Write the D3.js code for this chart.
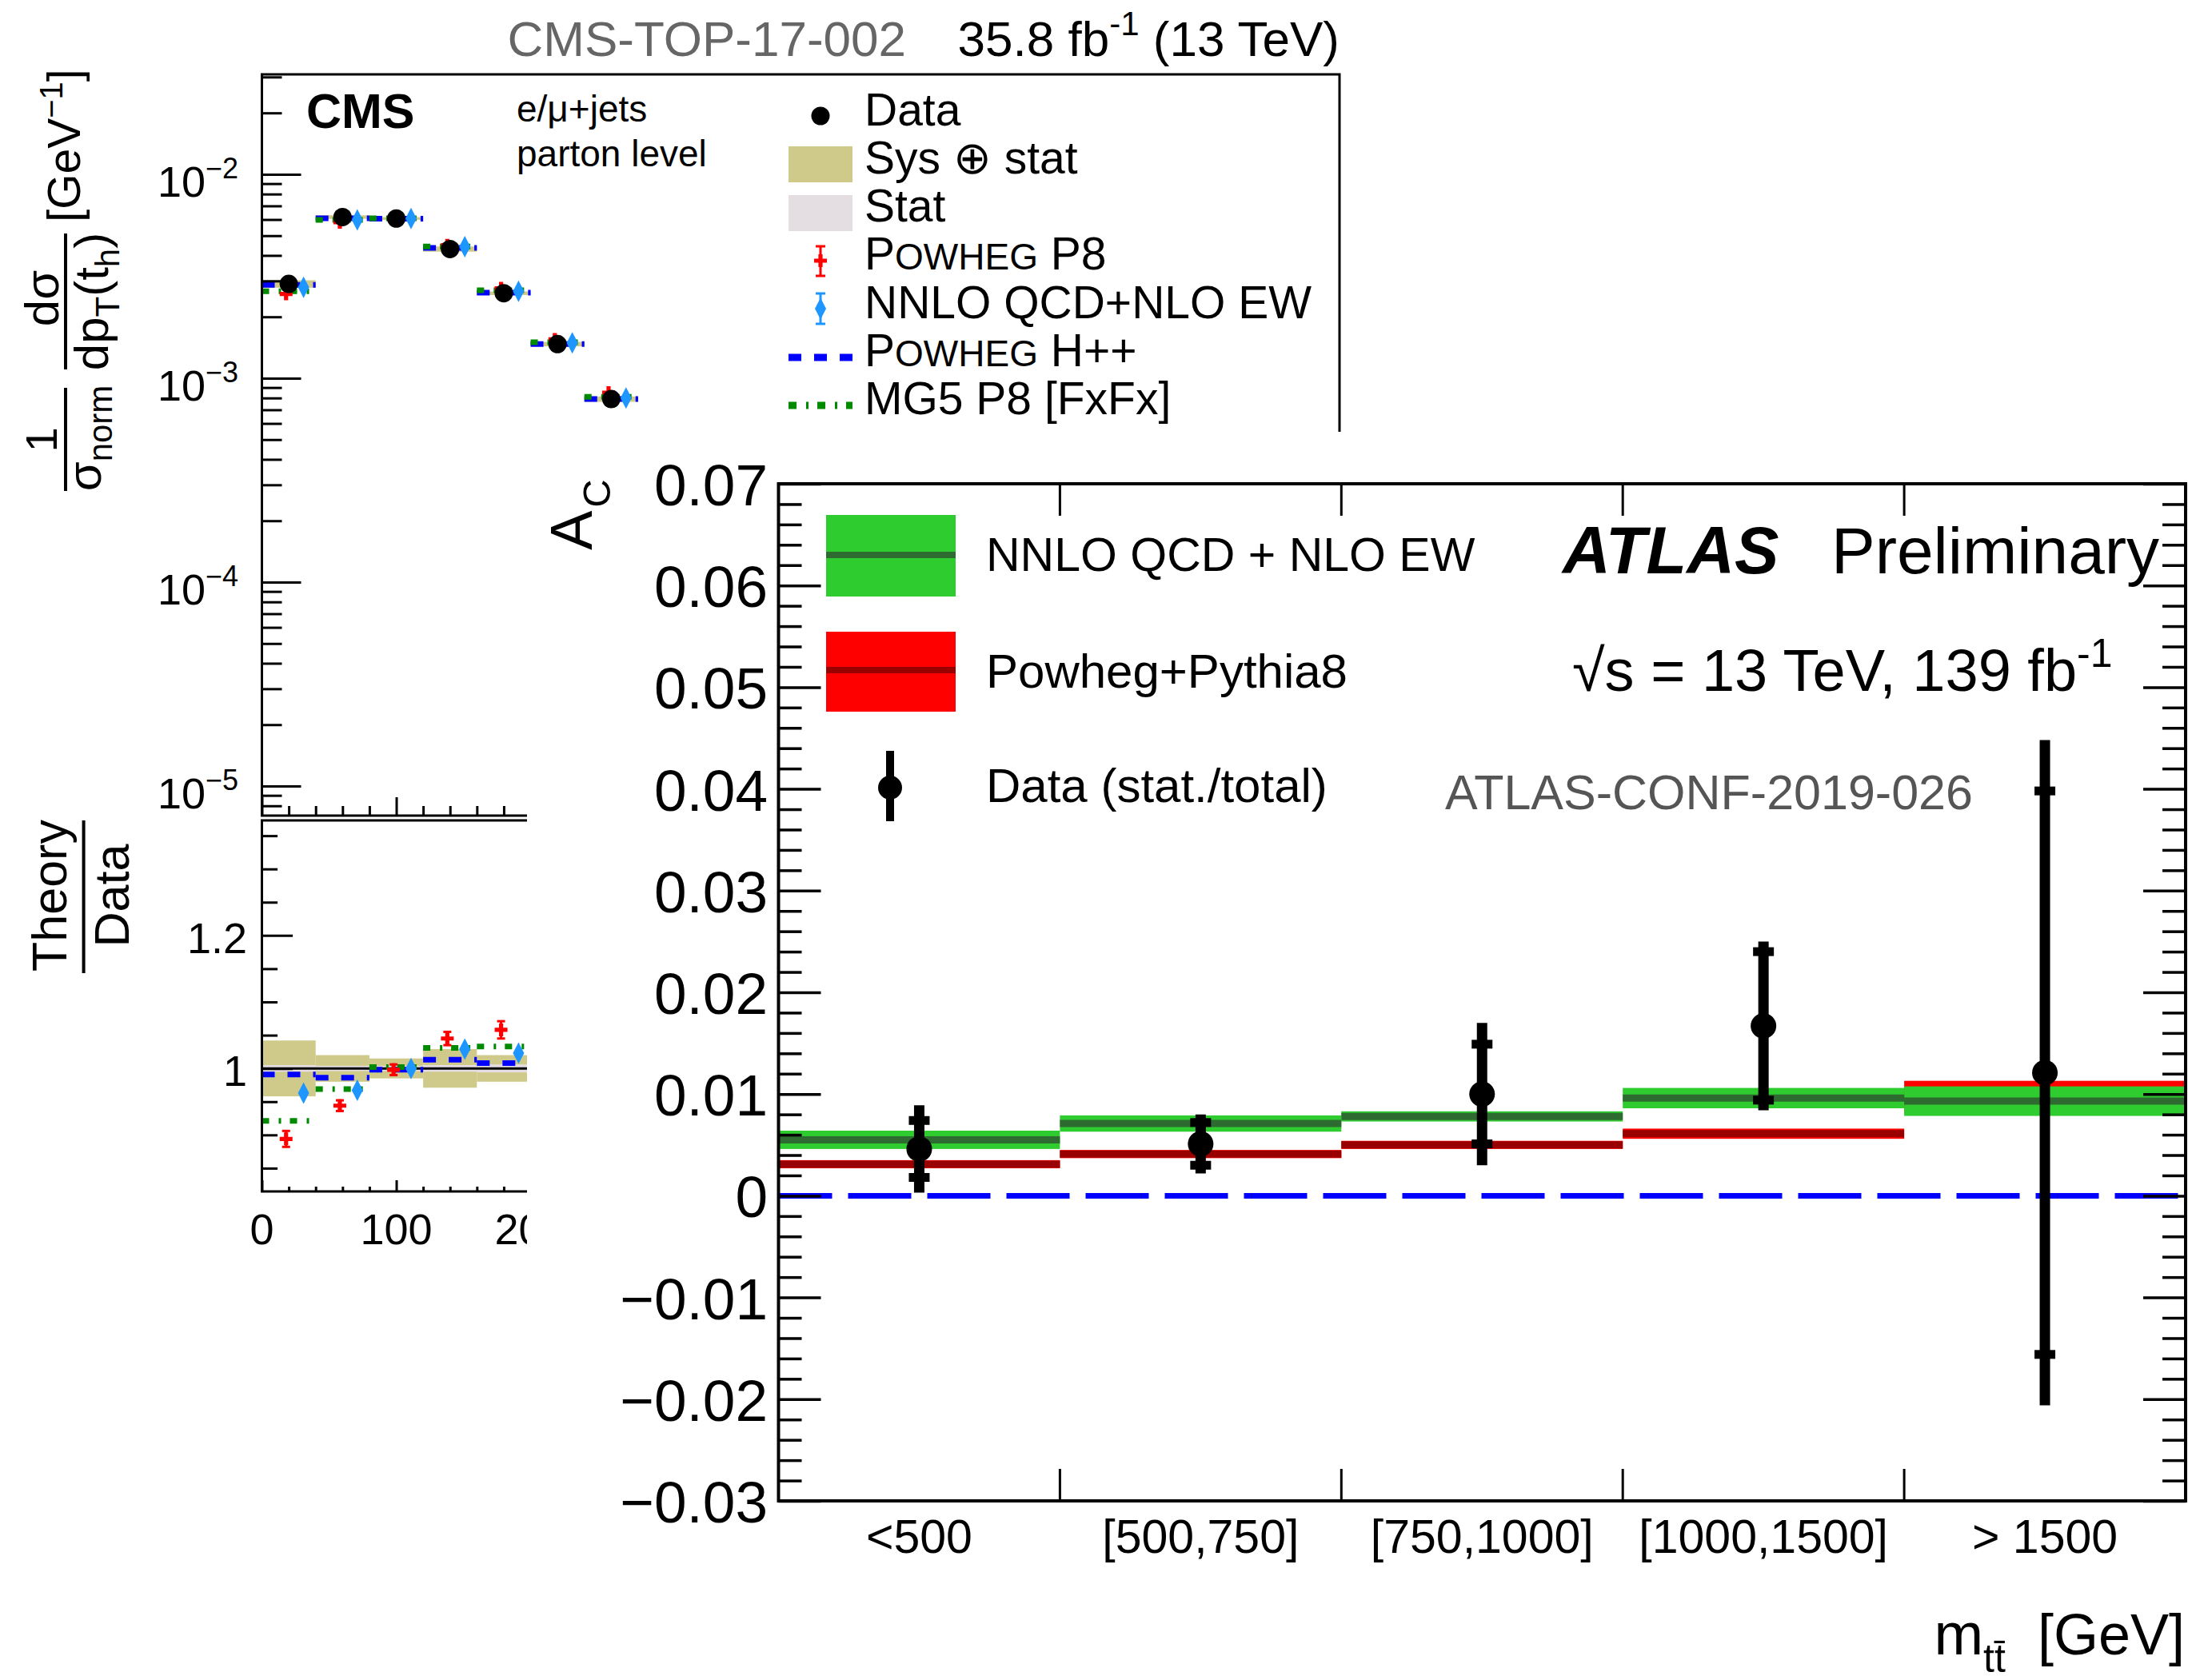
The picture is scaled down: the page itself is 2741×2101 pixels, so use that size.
<!DOCTYPE html>
<html>
<head>
<meta charset="utf-8">
<script src="https://cdn.jsdelivr.net/npm/d3@7"></script>
<style>
  body { margin: 0; background: #fff; }
  text { font-family: "Liberation Sans", Arial, Helvetica, sans-serif; }
</style>
</head>
<body>
<script>
// CMS: normalised pT(t_h) cross section, parton level
var ptEdges   = [0, 40, 80, 120, 160, 200, 240, 280];
var xsData    = [2.90e-3, 6.17e-3, 6.07e-3, 4.30e-3, 2.61e-3, 1.47e-3, 7.9e-4];
var xsP8      = [2.59e-3, 5.82e-3, 6.06e-3, 4.49e-3, 2.76e-3, 1.55e-3, 8.5e-4];
var xsNNLO    = [2.79e-3, 5.97e-3, 6.07e-3, 4.42e-3, 2.67e-3, 1.49e-3, 8.0e-4];
var xsHpp     = [2.87e-3, 6.08e-3, 6.06e-3, 4.36e-3, 2.63e-3, 1.47e-3, 7.9e-4];
var xsMG5     = [2.67e-3, 5.98e-3, 6.08e-3, 4.43e-3, 2.70e-3, 1.50e-3, 8.1e-4];
var relSys    = [0.042, 0.020, 0.015, 0.029, 0.020, 0.025, 0.030];
var relStat   = [0.005, 0.004, 0.004, 0.005, 0.006, 0.008, 0.010];
// theory / data ratios
var ratP8      = [0.894, 0.944, 0.998, 1.045, 1.058, 1.052, 1.075];
var ratP8Err   = [0.012, 0.008, 0.008, 0.010, 0.013, 0.015, 0.020];
var ratNNLO    = [0.963, 0.967, 1.000, 1.029, 1.023, 1.012, 1.010];
var ratHpp     = [0.991, 0.986, 0.998, 1.013, 1.008, 1.000, 1.000];
var ratMG5     = [0.921, 0.969, 1.002, 1.031, 1.033, 1.020, 1.030];
var ptLabels   = [0, 100, 200];
var decades    = [1e-2, 1e-3, 1e-4, 1e-5];
var decadeExp  = ['−2', '−3', '−4', '−5'];
var ratLabels  = [1, 1.2];

// ATLAS: charge asymmetry vs m(tt)
var mttBins     = ['<500', '[500,750]', '[750,1000]', '[1000,1500]', '> 1500'];
var acData      = [0.0046, 0.0051, 0.0100, 0.0167, 0.0121];
var acTot       = [0.0043, 0.0029, 0.0070, 0.0083, 0.0327];
var acStat      = [0.0028, 0.0021, 0.0049, 0.0073, 0.0277];
var acNNLO      = [0.0055, 0.0071, 0.0078, 0.0096, 0.0093];
var acNNLOErr   = [0.0009, 0.0008, 0.0005, 0.0010, 0.00145];
var acPowheg    = [0.0031, 0.0041, 0.0050, 0.0061, 0.0097];
var acPowhegErr = [0.0004, 0.0004, 0.0004, 0.0005, 0.0016];
var acTicks     = [-0.03, -0.02, -0.01, 0, 0.01, 0.02, 0.03, 0.04, 0.05, 0.06, 0.07];

var W = 2741, H = 2101;
var svg = d3.select('body').append('svg').attr('width', W).attr('height', H);
svg.append('rect').attr('width', W).attr('height', H).attr('fill', 'white');

var SYS = '#d0ca8a', STAT = '#e4dee2', BLUE = '#0000ff', GREEN = '#008a00',
    RED = '#ff0000', LBLUE = '#1e96ff';

function crossPath(cx, cy, s, t) {
  return 'M' + (cx - t) + ',' + (cy - s) + 'H' + (cx + t) + 'V' + (cy - t) + 'H' + (cx + s) +
    'V' + (cy + t) + 'H' + (cx + t) + 'V' + (cy + s) + 'H' + (cx - t) + 'V' + (cy + t) +
    'H' + (cx - s) + 'V' + (cy - t) + 'H' + (cx - t) + 'Z';
}
function diamondPath(cx, cy, w, h) {
  return 'M' + cx + ',' + (cy - h) + 'L' + (cx + w) + ',' + cy + 'L' + cx + ',' + (cy + h) +
    'L' + (cx - w) + ',' + cy + 'Z';
}
function tickAxis(parent, gen, tx, ty, sw) {
  var g = parent.append('g').attr('transform', 'translate(' + tx + ',' + ty + ')').call(gen);
  g.select('.domain').remove();
  g.selectAll('line').attr('stroke', '#000').attr('stroke-width', sw || 3);
  return g;
}

// ================= CMS =================
var cms = svg.append('g');
var x = d3.scaleLinear().domain([0, 802]).range([327.5, 1675]);
var yUp = d3.scaleLog().domain([Math.pow(10, -5.145), Math.pow(10, -1.51)]).range([1020, 93]);
var yRat = d3.scaleLinear().domain([0.815, 1.373]).range([1490, 1026]);
var bins = d3.range(xsData.length);
var lo = function(i) { return ptEdges[i]; }, hi = function(i) { return ptEdges[i + 1]; },
    mid = function(i) { return (ptEdges[i] + ptEdges[i + 1]) / 2; };

// upper panel
cms.selectAll(null).data(bins).enter().append('rect')
  .attr('x', function(i) { return x(lo(i)); })
  .attr('width', function(i) { return x(hi(i)) - x(lo(i)); })
  .attr('y', function(i) { return yUp(xsData[i] * (1 + relSys[i])); })
  .attr('height', function(i) { return yUp(xsData[i] * (1 - relSys[i])) - yUp(xsData[i] * (1 + relSys[i])); })
  .attr('fill', SYS);
function histSegs(g, ys, vals, color, dash) {
  g.selectAll(null).data(bins).enter().append('line')
    .attr('x1', function(i) { return x(lo(i)); }).attr('x2', function(i) { return x(hi(i)); })
    .attr('y1', function(i) { return ys(vals[i]); }).attr('y2', function(i) { return ys(vals[i]); })
    .attr('stroke', color).attr('stroke-width', 7).attr('stroke-dasharray', dash);
}
histSegs(cms, yUp, xsHpp, BLUE, '16,16');
histSegs(cms, yUp, xsMG5, GREEN, '9,12,3,11');
cms.selectAll(null).data(bins).enter().append('path')
  .attr('d', function(i) { return crossPath(x(mid(i) - 2), yUp(xsP8[i]), 8, 2.6); })
  .attr('fill', RED);
cms.selectAll(null).data(bins).enter().append('path')
  .attr('d', function(i) { return diamondPath(x(mid(i) + 11), yUp(xsNNLO[i]), 7, 13.5); })
  .attr('fill', LBLUE);
cms.selectAll(null).data(bins).enter().append('circle')
  .attr('cx', function(i) { return x(mid(i)); }).attr('cy', function(i) { return yUp(xsData[i]); })
  .attr('r', 11.5).attr('fill', '#000');

// lower ratio panel
cms.selectAll(null).data(bins).enter().append('rect')
  .attr('x', function(i) { return x(lo(i)); })
  .attr('width', function(i) { return x(hi(i)) - x(lo(i)); })
  .attr('y', function(i) { return yRat(1 + relSys[i]); })
  .attr('height', function(i) { return yRat(1 - relSys[i]) - yRat(1 + relSys[i]); })
  .attr('fill', SYS);
cms.selectAll(null).data(bins).enter().append('rect')
  .attr('x', function(i) { return x(lo(i)); })
  .attr('width', function(i) { return x(hi(i)) - x(lo(i)); })
  .attr('y', function(i) { return yRat(1 + relStat[i]); })
  .attr('height', function(i) { return yRat(1 - relStat[i]) - yRat(1 + relStat[i]); })
  .attr('fill', STAT);
cms.append('line').attr('x1', x(0)).attr('x2', 1675).attr('y1', yRat(1)).attr('y2', yRat(1))
  .attr('stroke', '#000').attr('stroke-width', 3);
histSegs(cms, yRat, ratHpp, BLUE, '16,16');
histSegs(cms, yRat, ratMG5, GREEN, '9,12,3,11');
var p8 = cms.selectAll(null).data(bins).enter().append('g');
p8.append('line')
  .attr('x1', function(i) { return x(mid(i) - 2); }).attr('x2', function(i) { return x(mid(i) - 2); })
  .attr('y1', function(i) { return yRat(ratP8[i] - ratP8Err[i]); })
  .attr('y2', function(i) { return yRat(ratP8[i] + ratP8Err[i]); })
  .attr('stroke', RED).attr('stroke-width', 3);
[-1, 1].forEach(function(s) {
  p8.append('line')
    .attr('x1', function(i) { return x(mid(i) - 2) - 5; }).attr('x2', function(i) { return x(mid(i) - 2) + 5; })
    .attr('y1', function(i) { return yRat(ratP8[i] + s * ratP8Err[i]); })
    .attr('y2', function(i) { return yRat(ratP8[i] + s * ratP8Err[i]); })
    .attr('stroke', RED).attr('stroke-width', 3);
});
p8.append('path').attr('d', function(i) { return crossPath(x(mid(i) - 2), yRat(ratP8[i]), 8, 2.6); })
  .attr('fill', RED);
cms.selectAll(null).data(bins).enter().append('path')
  .attr('d', function(i) { return diamondPath(x(mid(i) + 11), yRat(ratNNLO[i]), 7, 13.5); })
  .attr('fill', LBLUE);

// frames and ticks
cms.append('rect').attr('x', 327.5).attr('y', 93).attr('width', 1675 - 327.5).attr('height', 1020 - 93)
  .attr('fill', 'none').attr('stroke', '#000').attr('stroke-width', 3);
cms.append('rect').attr('x', 327.5).attr('y', 1026).attr('width', 1675 - 327.5).attr('height', 1490 - 1026)
  .attr('fill', 'none').attr('stroke', '#000').attr('stroke-width', 3);

var logMinor = [];
[-6, -5, -4, -3, -2].forEach(function(e) {
  d3.range(2, 10).forEach(function(m) {
    var v = m * Math.pow(10, e);
    if (v > yUp.domain()[0] && v < yUp.domain()[1]) logMinor.push(v);
  });
});
tickAxis(cms, d3.axisLeft(yUp).tickValues(decades).tickSize(-49).tickFormat(''), 327.5, 0);
tickAxis(cms, d3.axisLeft(yUp).tickValues(logMinor).tickSize(-25).tickFormat(''), 327.5, 0);
tickAxis(cms, d3.axisLeft(yRat).tickValues([1, 1.2]).tickSize(-38.6).tickFormat(''), 327.5, 0);
tickAxis(cms, d3.axisLeft(yRat).tickValues([0.85, 0.9, 0.95, 1.05, 1.1, 1.15, 1.25, 1.3, 1.35])
  .tickSize(-19.6).tickFormat(''), 327.5, 0);
tickAxis(cms, d3.axisBottom(x).tickValues(d3.range(0, 801, 100)).tickSize(-23).tickFormat(''), 0, 1020);
tickAxis(cms, d3.axisBottom(x).tickValues(d3.range(20, 801, 20).filter(function(v) { return v % 100; }))
  .tickSize(-12).tickFormat(''), 0, 1020);
tickAxis(cms, d3.axisBottom(x).tickValues(d3.range(0, 801, 100)).tickSize(-14).tickFormat(''), 0, 1490);
tickAxis(cms, d3.axisBottom(x).tickValues(d3.range(20, 801, 20).filter(function(v) { return v % 100; }))
  .tickSize(-6).tickFormat(''), 0, 1490);

// tick labels
decades.forEach(function(v, k) {
  var t = cms.append('text').attr('x', 298).attr('y', yUp(v) + 28).attr('text-anchor', 'end')
    .attr('font-size', 54);
  t.append('tspan').text('10');
  t.append('tspan').attr('font-size', 36).attr('dy', -23).text(decadeExp[k]);
});
ratLabels.forEach(function(v) {
  cms.append('text').attr('x', 309).attr('y', yRat(v) + 22).attr('text-anchor', 'end')
    .attr('font-size', 54).text(v === 1 ? '1' : v.toFixed(1));
});
ptLabels.forEach(function(v) {
  cms.append('text').attr('x', x(v)).attr('y', 1556).attr('text-anchor', 'middle')
    .attr('font-size', 54).text(v);
});

// y axis titles
var yl = cms.append('g').attr('transform', 'translate(82,614) rotate(-90)');
yl.append('line').attr('x1', 0).attr('x2', 129).attr('stroke', '#000').attr('stroke-width', 4);
yl.append('text').attr('x', 64).attr('y', -11).attr('text-anchor', 'middle').attr('font-size', 56).text('1');
var s1 = yl.append('text').attr('x', 66).attr('y', 44).attr('text-anchor', 'middle').attr('font-size', 60);
s1.append('tspan').text('σ');
s1.append('tspan').attr('font-size', 42).attr('dy', 14).text('norm');
yl.append('line').attr('x1', 152).attr('x2', 322).attr('stroke', '#000').attr('stroke-width', 4);
yl.append('text').attr('x', 241).attr('y', -9).attr('text-anchor', 'middle').attr('font-size', 60).text('dσ');
var s2 = yl.append('text').attr('x', 237).attr('y', 53).attr('text-anchor', 'middle').attr('font-size', 60);
s2.append('tspan').text('dp');
s2.append('tspan').attr('font-size', 42).attr('dy', 14).text('T');
s2.append('tspan').attr('dy', -14).text('(t');
s2.append('tspan').attr('font-size', 42).attr('dy', 14).text('h');
s2.append('tspan').attr('dy', -14).text(')');
var s3 = yl.append('text').attr('x', 432).attr('y', 18).attr('text-anchor', 'middle').attr('font-size', 57);
s3.append('tspan').text('[GeV');
s3.append('tspan').attr('font-size', 40).attr('dy', -22).text('−1');
s3.append('tspan').attr('dy', 22).text(']');

var rl = cms.append('g').attr('transform', 'translate(104.6,1217) rotate(-90)');
rl.append('line').attr('x1', 0).attr('x2', 191).attr('stroke', '#000').attr('stroke-width', 4);
rl.append('text').attr('x', 97).attr('y', -22).attr('text-anchor', 'middle').attr('font-size', 61).text('Theory');
rl.append('text').attr('x', 97).attr('y', 56).attr('text-anchor', 'middle').attr('font-size', 61).text('Data');

// header and labels
cms.append('text').attr('x', 1133).attr('y', 70).attr('text-anchor', 'end').attr('font-size', 62)
  .attr('fill', '#666').text('CMS-TOP-17-002');
var lumi = cms.append('text').attr('x', 1675).attr('y', 70).attr('text-anchor', 'end').attr('font-size', 62);
lumi.append('tspan').text('35.8 fb');
lumi.append('tspan').attr('font-size', 42).attr('dy', -26).text('-1');
lumi.append('tspan').attr('dy', 26).text(' (13 TeV)');
cms.append('text').attr('x', 383).attr('y', 160).attr('font-size', 61).attr('font-weight', 'bold').text('CMS');
cms.append('text').attr('x', 646).attr('y', 152).attr('font-size', 46).text('e/μ+jets');
cms.append('text').attr('x', 646).attr('y', 208).attr('font-size', 46).text('parton level');

// legend
var legY = [157, 217, 277, 337, 398, 458, 518];
function legText(k, parts) {
  var t = cms.append('text').attr('x', 1081).attr('y', legY[k]).attr('font-size', 57);
  parts.forEach(function(p) { t.append('tspan').attr('font-size', p[1] || 57).text(p[0]); });
}
cms.append('circle').attr('cx', 1026).attr('cy', 145).attr('r', 11.5).attr('fill', '#000');
legText(0, [['Data']]);
cms.append('rect').attr('x', 986).attr('y', 183).attr('width', 80).attr('height', 45).attr('fill', SYS);
legText(1, [['Sys ⊕ stat']]);
cms.append('rect').attr('x', 986).attr('y', 244).attr('width', 80).attr('height', 45).attr('fill', STAT);
legText(2, [['Stat']]);
cms.append('line').attr('x1', 1026).attr('x2', 1026).attr('y1', 308).attr('y2', 345).attr('stroke', RED).attr('stroke-width', 3);
[308, 345].forEach(function(v) {
  cms.append('line').attr('x1', 1020).attr('x2', 1032).attr('y1', v).attr('y2', v).attr('stroke', RED).attr('stroke-width', 3);
});
cms.append('path').attr('d', crossPath(1026, 326, 8, 2.6)).attr('fill', RED);
legText(3, [['P'], ['OWHEG', 46], [' P8']]);
cms.append('line').attr('x1', 1026).attr('x2', 1026).attr('y1', 367).attr('y2', 405).attr('stroke', LBLUE).attr('stroke-width', 3);
[367, 405].forEach(function(v) {
  cms.append('line').attr('x1', 1020).attr('x2', 1032).attr('y1', v).attr('y2', v).attr('stroke', LBLUE).attr('stroke-width', 3);
});
cms.append('path').attr('d', diamondPath(1026, 386, 7, 13.5)).attr('fill', LBLUE);
legText(4, [['NNLO QCD+NLO EW']]);
cms.append('line').attr('x1', 986).attr('x2', 1066).attr('y1', 447).attr('y2', 447)
  .attr('stroke', BLUE).attr('stroke-width', 9).attr('stroke-dasharray', '16,16');
legText(5, [['P'], ['OWHEG', 46], [' H++']]);
cms.append('line').attr('x1', 986).attr('x2', 1066).attr('y1', 507).attr('y2', 507)
  .attr('stroke', GREEN).attr('stroke-width', 9).attr('stroke-dasharray', '10,12,3,11');
legText(6, [['MG5 P8 [FxFx]']]);

// ================= ATLAS =================
var atl = svg.append('g');
atl.append('rect').attr('x', 659).attr('y', 540).attr('width', W - 659).attr('height', H - 540).attr('fill', '#fff');
var ax = d3.scaleBand().domain(mttBins).range([973.5, 2733]).padding(0);
var ay = d3.scaleLinear().domain([-0.03, 0.07]).range([1877, 605]);
var bw = ax.bandwidth();

function bands(vals, errs, fill, dark) {
  atl.selectAll(null).data(mttBins).enter().append('rect')
    .attr('x', function(d) { return ax(d); }).attr('width', bw)
    .attr('y', function(d, i) { return ay(vals[i] + errs[i]); })
    .attr('height', function(d, i) { return ay(vals[i] - errs[i]) - ay(vals[i] + errs[i]); })
    .attr('fill', fill);
  atl.selectAll(null).data(mttBins).enter().append('line')
    .attr('x1', function(d) { return ax(d); }).attr('x2', function(d) { return ax(d) + bw; })
    .attr('y1', function(d, i) { return ay(vals[i]); }).attr('y2', function(d, i) { return ay(vals[i]); })
    .attr('stroke', dark).attr('stroke-width', 9);
}
bands(acPowheg, acPowhegErr, '#ff0000', '#990000');
bands(acNNLO, acNNLOErr, '#2ecc2e', '#2e6b30');

atl.append('line').attr('x1', 973.5).attr('x2', 2733).attr('y1', ay(0)).attr('y2', ay(0))
  .attr('stroke', BLUE).attr('stroke-width', 7).attr('stroke-dasharray', '79,20').attr('stroke-dashoffset', 12);

var cxA = function(d) { return ax(d) + bw / 2; };
atl.selectAll(null).data(mttBins).enter().append('line')
  .attr('x1', cxA).attr('x2', cxA)
  .attr('y1', function(d, i) { return ay(acData[i] - acTot[i]); })
  .attr('y2', function(d, i) { return ay(acData[i] + acTot[i]); })
  .attr('stroke', '#000').attr('stroke-width', 13);
[-1, 1].forEach(function(s) {
  atl.selectAll(null).data(mttBins).enter().append('rect')
    .attr('x', function(d) { return cxA(d) - 13; }).attr('width', 26)
    .attr('y', function(d, i) { return ay(acData[i] + s * acStat[i]) - 5.5; }).attr('height', 11)
    .attr('fill', '#000');
});
atl.selectAll(null).data(mttBins).enter().append('circle')
  .attr('cx', cxA).attr('cy', function(d, i) { return ay(acData[i]); }).attr('r', 16).attr('fill', '#000');

// frame + ticks
atl.append('rect').attr('x', 973.5).attr('y', 605).attr('width', 2733 - 973.5).attr('height', 1877 - 605)
  .attr('fill', 'none').attr('stroke', '#000').attr('stroke-width', 4);
var acMinor = d3.range(-15, 36).map(function(k) { return k * 0.002; })
  .filter(function(v) { return Math.abs(v * 100 - Math.round(v * 100)) > 1e-6; });
tickAxis(atl, d3.axisLeft(ay).tickValues(acTicks).tickSize(-53).tickFormat(''), 973.5, 0, 3.5);
tickAxis(atl, d3.axisLeft(ay).tickValues(acMinor).tickSize(-29).tickFormat(''), 973.5, 0, 3.5);
tickAxis(atl, d3.axisRight(ay).tickValues(acTicks).tickSize(-53).tickFormat(''), 2733, 0, 3.5);
tickAxis(atl, d3.axisRight(ay).tickValues(acMinor).tickSize(-29).tickFormat(''), 2733, 0, 3.5);
mttBins.slice(1).forEach(function(b) {
  atl.append('line').attr('x1', ax(b)).attr('x2', ax(b)).attr('y1', 1877).attr('y2', 1837)
    .attr('stroke', '#000').attr('stroke-width', 3);
  atl.append('line').attr('x1', ax(b)).attr('x2', ax(b)).attr('y1', 605).attr('y2', 645)
    .attr('stroke', '#000').attr('stroke-width', 3);
});

acTicks.forEach(function(v) {
  var s = v === 0 ? '0' : v.toFixed(2).replace('-', '−');
  atl.append('text').attr('x', 960).attr('y', ay(v) + 27).attr('text-anchor', 'end')
    .attr('font-size', 73).text(s);
});
mttBins.forEach(function(b) {
  atl.append('text').attr('x', cxA(b)).attr('y', 1942).attr('text-anchor', 'middle')
    .attr('font-size', 59).text(b);
});

// axis titles
var ac = atl.append('text').attr('transform', 'translate(740,688) rotate(-90)').attr('font-size', 74);
ac.append('tspan').text('A');
ac.append('tspan').attr('font-size', 49).attr('dx', 4).attr('dy', 23).text('C');
var mt = atl.append('text').attr('x', 2732).attr('y', 2069).attr('text-anchor', 'end').attr('font-size', 74);
mt.append('tspan').text('m');
mt.append('tspan').attr('font-size', 50).attr('dy', 22).text('tt\u0304');
mt.append('tspan').attr('font-size', 72).attr('dy', -22).text('\u00a0\u00a0[GeV]');

// legend
atl.append('rect').attr('x', 1033).attr('y', 644).attr('width', 162).attr('height', 102).attr('fill', '#2ecc2e');
atl.append('line').attr('x1', 1033).attr('x2', 1195).attr('y1', 694).attr('y2', 694).attr('stroke', '#2e6b30').attr('stroke-width', 8);
atl.append('text').attr('x', 1233).attr('y', 714).attr('font-size', 59).text('NNLO QCD + NLO EW');
atl.append('rect').attr('x', 1033).attr('y', 790).attr('width', 162).attr('height', 100).attr('fill', '#ff0000');
atl.append('line').attr('x1', 1033).attr('x2', 1195).attr('y1', 838).attr('y2', 838).attr('stroke', '#990000').attr('stroke-width', 8);
atl.append('text').attr('x', 1233).attr('y', 860).attr('font-size', 60).text('Powheg+Pythia8');
atl.append('line').attr('x1', 1113).attr('x2', 1113).attr('y1', 939).attr('y2', 1027).attr('stroke', '#000').attr('stroke-width', 10);
atl.append('circle').attr('cx', 1113).attr('cy', 985).attr('r', 15).attr('fill', '#000');
atl.append('text').attr('x', 1233).attr('y', 1003).attr('font-size', 60).text('Data (stat./total)');

atl.append('text').attr('x', 1954).attr('y', 717).attr('font-size', 83).attr('font-weight', 'bold')
  .attr('font-style', 'italic').text('ATLAS');
atl.append('text').attr('x', 2290).attr('y', 717).attr('font-size', 82).text('Preliminary');
var rs = atl.append('text').attr('x', 1966).attr('y', 864).attr('font-size', 74);
rs.append('tspan').text('√s = 13 TeV, 139 fb');
rs.append('tspan').attr('font-size', 50).attr('dy', -30).text('-1');
atl.append('text').attr('x', 1807).attr('y', 1012).attr('font-size', 61).attr('fill', '#555')
  .text('ATLAS-CONF-2019-026');
</script>
</body>
</html>
